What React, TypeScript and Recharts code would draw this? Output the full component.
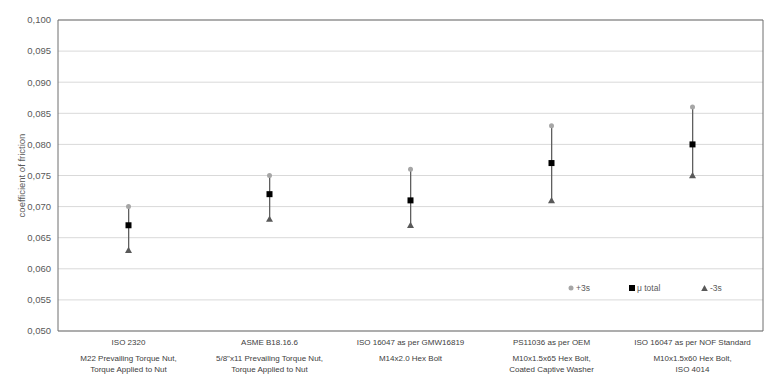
import React from 'react';
import { ComposedChart, Bar, Line, XAxis, YAxis, CartesianGrid, Legend } from 'recharts';

const categories = ['ISO 2320', 'ASME B18.16.6', 'ISO 16047 as per GMW16819', 'PS11036 as per OEM', 'ISO 16047 as per NOF Standard'];
const descLine1 = ['M22 Prevailing Torque Nut,', '5/8"x11 Prevailing Torque Nut,', 'M14x2.0 Hex Bolt', 'M10x1.5x65 Hex Bolt,', 'M10x1.5x60 Hex Bolt,'];
const descLine2 = ['Torque Applied to Nut', 'Torque Applied to Nut', '', 'Coated Captive Washer', 'ISO 4014'];
const plus3s = [0.070, 0.075, 0.076, 0.083, 0.086];
const muTotal = [0.067, 0.072, 0.071, 0.077, 0.080];
const minus3s = [0.063, 0.068, 0.067, 0.071, 0.075];
const yTicks = [0.05, 0.055, 0.06, 0.065, 0.07, 0.075, 0.08, 0.085, 0.09, 0.095, 0.1];
const legendOrder = ['plus', 'mu', 'minus'];

const data = categories.map((name, i) => ({
  name,
  range: [minus3s[i], plus3s[i]],
  plus: plus3s[i],
  mu: muTotal[i],
  minus: minus3s[i],
}));

const FONT = '"Liberation Sans", Arial, sans-serif';
const TEXT = '#595959';
const XTEXT = '#404040';
const BORDER = '#6e6e6e';

const CircleDot = (p: any) => (
  <circle key={`c${p.index}`} cx={p.cx} cy={p.cy} r={2.5} fill="#a6a6a6" />
);
const SquareDot = (p: any) => (
  <rect key={`s${p.index}`} x={p.cx - 3} y={p.cy - 3} width={6} height={6} fill="#000000" />
);
const TriDot = (p: any) => (
  <path key={`t${p.index}`} d={`M${p.cx},${p.cy - 3.4} L${p.cx + 3.5},${p.cy + 2.8} L${p.cx - 3.5},${p.cy + 2.8} Z`} fill="#595959" />
);

const XTick = (props: any) => {
  const { x, y, payload } = props;
  const i = categories.indexOf(payload.value);
  return (
    <g transform={`translate(${x},${y})`}>
      <text textAnchor="middle" y={14} fontSize={8} fill={XTEXT} fontFamily={FONT}>{payload.value}</text>
      <text textAnchor="middle" y={30} fontSize={8} fill={XTEXT} fontFamily={FONT}>{descLine1[i]}</text>
      <text textAnchor="middle" y={40.5} fontSize={8} fill={XTEXT} fontFamily={FONT}>{descLine2[i]}</text>
    </g>
  );
};

const icon = (key: string) => {
  if (key === 'plus') return <svg width={6} height={8}><circle cx={3} cy={4} r={2.5} fill="#a6a6a6" /></svg>;
  if (key === 'mu') return <svg width={6} height={8}><rect x={0} y={1} width={6} height={6} fill="#000" /></svg>;
  return <svg width={7} height={8}><path d="M3.5,1 L6.8,7 L0.2,7 Z" fill="#595959" /></svg>;
};

const renderLegend = (props: any) => {
  const items = (props.payload || [])
    .filter((p: any) => legendOrder.includes(p.dataKey))
    .sort((a: any, b: any) => legendOrder.indexOf(a.dataKey) - legendOrder.indexOf(b.dataKey));
  const widths = [61, 72, 60];
  return (
    <div style={{ display: 'flex', alignItems: 'center', fontFamily: FONT, fontSize: 8.5, color: TEXT }}>
      {items.map((it: any, i: number) => (
        <div key={it.dataKey} style={{ display: 'flex', alignItems: 'center', width: widths[i] }}>
          {icon(it.dataKey)}
          <span style={{ marginLeft: 2 }}>{it.value}</span>
        </div>
      ))}
    </div>
  );
};

export default function App() {
  return (
    <div style={{ position: 'absolute', left: 0, top: 0, background: '#fff' }}>
      <ComposedChart width={784} height={390} data={data} margin={{ top: 19, right: 20, bottom: 0, left: 18 }}>
        <CartesianGrid horizontal vertical={false} stroke="#d9d9d9" />
        <XAxis dataKey="name" height={59} tick={<XTick />} tickLine={false} tickSize={0} tickMargin={0} axisLine={{ stroke: BORDER }} interval={0} />
        <XAxis xAxisId="top" orientation="top" dataKey="name" height={1} tick={false} tickLine={false} axisLine={{ stroke: BORDER }} />
        <YAxis
          domain={[0.05, 0.1]}
          ticks={yTicks}
          width={40}
          tickLine={false}
          tickSize={0}
          tickMargin={7}
          axisLine={{ stroke: BORDER }}
          tickFormatter={(v: number) => v.toFixed(3).replace('.', ',')}
          tick={{ fontSize: 9.5, fill: TEXT, fontFamily: FONT }}
          label={{
            value: 'coefficient of friction',
            content: (p: any) => {
              const vb = p.viewBox;
              const cx = vb.x + 3;
              const cy = vb.y + vb.height / 2;
              return (
                <text x={cx} y={cy} transform={`rotate(-90, ${cx}, ${cy})`} textAnchor="middle" dominantBaseline="central" fontSize={9.5} fill={TEXT} fontFamily={FONT}>
                  coefficient of friction
                </text>
              );
            },
          }}
        />
        <YAxis yAxisId="right" orientation="right" domain={[0.05, 0.1]} width={1} tick={false} tickLine={false} axisLine={{ stroke: BORDER }} />
        <Legend layout="horizontal" verticalAlign="middle" align="center" wrapperStyle={{ position: 'absolute', left: 568, top: 283, width: 195, height: 14 }} content={renderLegend} />
        <Bar dataKey="range" barSize={1.3} fill="#5f5f5f" legendType="none" isAnimationActive={false} />
        <Line dataKey="plus" name="+3s" stroke="none" dot={CircleDot} activeDot={false} isAnimationActive={false} />
        <Line dataKey="mu" name="μ total" stroke="none" dot={SquareDot} activeDot={false} isAnimationActive={false} />
        <Line dataKey="minus" name="-3s" stroke="none" dot={TriDot} activeDot={false} isAnimationActive={false} />
      </ComposedChart>
    </div>
  );
}
